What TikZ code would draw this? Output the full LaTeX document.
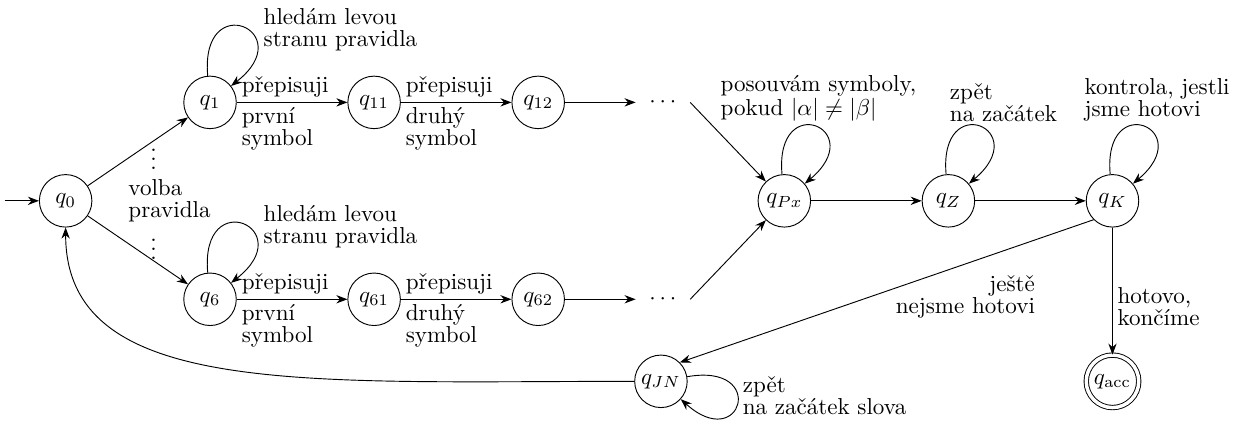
\documentclass[tikz,border=0pt]{standalone}
\usepackage{fontspec}
\usetikzlibrary{arrows.meta}
\begin{document}
\begin{tikzpicture}[>=Stealth,
    state/.style={circle, draw, minimum size=0.8cm, inner sep=1pt},
    accept/.style={state, double, double distance=1.5pt},
    lbl/.style={align=left, inner sep=2pt, font=\fontsize{10}{9.5}\selectfont},
    dots/.style={inner sep=3pt, outer sep=3pt}]
    \useasboundingbox (-1.0,-3.41) rectangle (18.03,3.06);

    % stavy
    \node[state] (q0) at (0,0) {$q_0$};
    \node[state] (q1) at (2.2,1.5) {$q_1$};
    \node[state] (q11) at (4.7,1.5) {$q_{11}$};
    \node[state] (q12) at (7.2,1.5) {$q_{12}$};
    \node[dots] (d1) at (9.1,1.5) {$\cdots$};
    \node[state] (q6) at (2.2,-1.5) {$q_6$};
    \node[state] (q61) at (4.7,-1.5) {$q_{61}$};
    \node[state] (q62) at (7.2,-1.5) {$q_{62}$};
    \node[dots] (d2) at (9.1,-1.5) {$\cdots$};
    \node[state] (qPx) at (10.95,0) {$q_{Px}$};
    \node[state] (qZ) at (13.45,0) {$q_Z$};
    \node[state] (qK) at (15.95,0) {$q_K$};
    \node[state] (qJN) at (9.07,-2.75) {$q_{JN}$};
    \node[accept] (qacc) at (15.95,-2.75) {$q_{\mathrm{acc}}$};

    \node[inner sep=0pt] (vd1) at (1.34,0.74) {$\vdots$};
    \node[inner sep=0pt] (vd2) at (1.34,-0.63) {$\vdots$};
    \node[lbl, anchor=west] (volba) at (0.88,0) {volba\\pravidla};

    % prechody
    \coordinate (start) at (-0.93,0);
    \draw[->] (start) -- (q0);
    \draw[->] (q0) -- (q1);
    \draw[->] (q0) -- (q6);

    \draw[->] (q1) to[out=95, in=38, distance=1.35cm]
        node[lbl, pos=0.6, right, xshift=0.12cm, yshift=0.05cm] {hledám levou\\stranu pravidla} (q1);
    \draw[->] (q6) to[out=95, in=38, distance=1.35cm]
        node[lbl, pos=0.6, right, xshift=0.12cm, yshift=0.05cm] {hledám levou\\stranu pravidla} (q6);

    \draw[->] (q1) -- node[lbl, pos=0, above right] {přepisuji}
        node[lbl, pos=0, below right] {první\\symbol} (q11);
    \draw[->] (q11) -- node[lbl, pos=0, above right] {přepisuji}
        node[lbl, pos=0, below right] {druhý\\symbol} (q12);
    \draw[->] (q6) -- node[lbl, pos=0, above right] {přepisuji}
        node[lbl, pos=0, below right] {první\\symbol} (q61);
    \draw[->] (q61) -- node[lbl, pos=0, above right] {přepisuji}
        node[lbl, pos=0, below right] {druhý\\symbol} (q62);

    \draw[->] (q12) -- (d1);
    \draw[->] (q62) -- (d2);
    \draw[->] (d1.east) -- (qPx);
    \draw[->] (d2.east) -- (qPx);

    \draw[->] (qPx) to[out=95, in=40, distance=1.3cm]
        node[lbl, above, xshift=0.05cm] {posouvám symboly,\\pokud $|\alpha| \neq |\beta|$} (qPx);
    \draw[->] (qPx) -- (qZ);
    \draw[->] (qZ) to[out=95, in=40, distance=1.3cm]
        node[lbl, above, xshift=0.37cm] {zpět\\na začátek} (qZ);
    \draw[->] (qZ) -- (qK);
    \draw[->] (qK) to[out=95, in=40, distance=1.3cm]
        node[lbl, above, xshift=0.21cm] {kontrola, jestli\\jsme hotovi} (qK);

    \draw[->] (qK) -- node[lbl, pos=0.62, right] {hotovo,\\končíme} (qacc);
    \draw[->] (qK.south west) -- node[lbl, align=right, pos=0.31, below, yshift=-0.1cm] {ještě\\nejsme hotovi} (qJN.north east);

    \draw[->] (qJN) to[out=10, in=-42, distance=1.25cm]
        node[lbl, pos=0.42, right] {zpět\\na začátek slova} (qJN);
    \draw[->] (qJN) to[out=180, in=270, out distance=5cm, in distance=2.6cm] (q0);
\end{tikzpicture}
\end{document}
